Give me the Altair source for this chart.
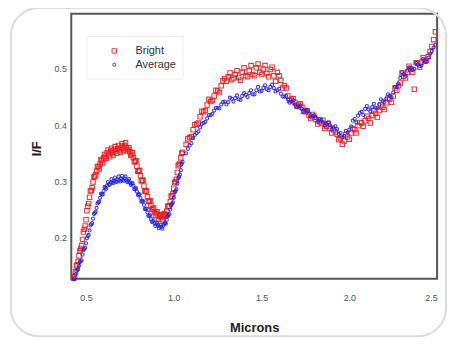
import altair as alt
import pandas as pd

# wavelength grids (microns)
x_a = [0.43, 0.44, 0.45, 0.46, 0.47, 0.48, 0.49, 0.50, 0.51, 0.52,
       0.53, 0.54, 0.55, 0.56, 0.57, 0.58, 0.59, 0.60, 0.61, 0.62,
       0.63, 0.64, 0.65, 0.66, 0.67, 0.68, 0.69, 0.70, 0.71, 0.72,
       0.73, 0.74, 0.75, 0.76, 0.77, 0.78, 0.79, 0.80, 0.81, 0.82,
       0.83, 0.84, 0.85, 0.86, 0.87, 0.88, 0.89, 0.90, 0.91, 0.92,
       0.93, 0.94, 0.95, 0.96, 0.97, 0.98, 0.99, 1.00, 1.01, 1.02,
       1.03, 1.04, 1.05]
x_c = [0.435, 0.445, 0.455, 0.465, 0.475, 0.485, 0.495, 0.505, 0.515, 0.525,
       0.535, 0.545, 0.555, 0.565, 0.575, 0.585, 0.595, 0.605, 0.615, 0.625,
       0.635, 0.645, 0.655, 0.665, 0.675, 0.685, 0.695, 0.705, 0.715, 0.725,
       0.735, 0.745, 0.755, 0.765, 0.775, 0.785, 0.795, 0.805, 0.815, 0.825,
       0.835, 0.845, 0.855, 0.865, 0.875, 0.885, 0.895, 0.905, 0.915, 0.925,
       0.935, 0.945, 0.955, 0.965, 0.975, 0.985, 0.995, 1.005, 1.015, 1.025,
       1.035, 1.045]
x_b = [1.07, 1.09, 1.11, 1.13, 1.15, 1.17, 1.19, 1.21, 1.23, 1.25,
       1.27, 1.29, 1.31, 1.33, 1.35, 1.37, 1.39, 1.41, 1.43, 1.45,
       1.47, 1.49, 1.51, 1.53, 1.55, 1.57, 1.59, 1.61, 1.63, 1.65,
       1.67, 1.69, 1.71, 1.73, 1.75, 1.77, 1.79, 1.81, 1.83, 1.85,
       1.87, 1.89, 1.91, 1.93, 1.95, 1.97, 1.99, 2.01, 2.03, 2.05,
       2.07, 2.09, 2.11, 2.13, 2.15, 2.17, 2.19, 2.21, 2.23, 2.25,
       2.27, 2.29, 2.31, 2.33, 2.35, 2.37, 2.39, 2.41, 2.43, 2.45,
       2.47, 2.49]
x_d = [1.08, 1.10, 1.12, 1.14, 1.16, 1.18, 1.20, 1.22, 1.24, 1.26,
       1.28, 1.30, 1.32, 1.34, 1.36, 1.38, 1.40, 1.42, 1.44, 1.46,
       1.48, 1.50, 1.52, 1.54, 1.56, 1.58, 1.60, 1.62, 1.64, 1.66,
       1.68, 1.70, 1.72, 1.74, 1.76, 1.78, 1.80, 1.82, 1.84, 1.86,
       1.88, 1.90, 1.92, 1.94, 1.96, 1.98, 2.00, 2.02, 2.04, 2.06,
       2.08, 2.10, 2.12, 2.14, 2.16, 2.18, 2.20, 2.22, 2.24, 2.26,
       2.28, 2.30, 2.32, 2.34, 2.36, 2.38, 2.40, 2.42, 2.44, 2.46,
       2.48]

bright_a = [0.128, 0.140, 0.152, 0.168, 0.181, 0.197, 0.215, 0.232, 0.256, 0.272,
            0.284, 0.299, 0.309, 0.318, 0.327, 0.331, 0.337, 0.342, 0.345, 0.351,
            0.349, 0.354, 0.352, 0.357, 0.354, 0.358, 0.356, 0.361, 0.359, 0.364,
            0.360, 0.357, 0.353, 0.348, 0.342, 0.336, 0.327, 0.319, 0.310, 0.302,
            0.292, 0.282, 0.273, 0.264, 0.257, 0.251, 0.246, 0.243, 0.240, 0.238,
            0.236, 0.238, 0.241, 0.247, 0.256, 0.264, 0.274, 0.288, 0.300, 0.316,
            0.330, 0.342, 0.352]
bright_c = [0.131, 0.150, 0.158, 0.177, 0.186, 0.210, 0.221, 0.248, 0.261, 0.283,
            0.289, 0.308, 0.312, 0.326, 0.322, 0.339, 0.333, 0.348, 0.341, 0.356,
            0.344, 0.359, 0.347, 0.362, 0.350, 0.364, 0.352, 0.367, 0.355, 0.369,
            0.354, 0.360, 0.346, 0.351, 0.335, 0.337, 0.318, 0.320, 0.301, 0.302,
            0.283, 0.283, 0.265, 0.266, 0.250, 0.253, 0.240, 0.246, 0.233, 0.241,
            0.232, 0.243, 0.240, 0.256, 0.256, 0.274, 0.278, 0.298, 0.304, 0.328,
            0.332, 0.350]
bright_b = [0.366, 0.378, 0.392, 0.402, 0.415, 0.424, 0.436, 0.442, 0.452, 0.461,
            0.470, 0.483, 0.486, 0.481, 0.490, 0.485, 0.494, 0.488, 0.497, 0.490,
            0.502, 0.494, 0.500, 0.492, 0.499, 0.488, 0.494, 0.480, 0.470, 0.452,
            0.446, 0.441, 0.436, 0.432, 0.424, 0.418, 0.419, 0.410, 0.406, 0.409,
            0.398, 0.394, 0.392, 0.384, 0.376, 0.372, 0.379, 0.386, 0.392, 0.399,
            0.404, 0.408, 0.412, 0.417, 0.421, 0.426, 0.432, 0.440, 0.446, 0.452,
            0.462, 0.475, 0.487, 0.494, 0.500, 0.464, 0.510, 0.512, 0.514, 0.522,
            0.540, 0.566]
bright_d = [0.376, 0.380, 0.401, 0.404, 0.425, 0.426, 0.446, 0.444, 0.462, 0.458,
            0.479, 0.478, 0.493, 0.484, 0.497, 0.480, 0.502, 0.486, 0.506, 0.488,
            0.509, 0.490, 0.506, 0.486, 0.503, 0.478, 0.488, 0.466, 0.466, 0.444,
            0.447, 0.434, 0.438, 0.425, 0.426, 0.412, 0.414, 0.402, 0.404, 0.394,
            0.403, 0.386, 0.388, 0.374, 0.366, 0.383, 0.375, 0.394, 0.386, 0.405,
            0.398, 0.416, 0.404, 0.426, 0.414, 0.436, 0.428, 0.448, 0.441, 0.466,
            0.470, 0.493, 0.484, 0.505, 0.494, 0.511, 0.503, 0.520, 0.515, 0.531,
            0.552]

average_a = [0.126, 0.135, 0.143, 0.150, 0.158, 0.170, 0.180, 0.190, 0.203, 0.213,
             0.224, 0.234, 0.244, 0.253, 0.263, 0.271, 0.277, 0.283, 0.289, 0.293,
             0.295, 0.298, 0.299, 0.301, 0.300, 0.303, 0.302, 0.305, 0.303, 0.305,
             0.302, 0.301, 0.298, 0.296, 0.292, 0.287, 0.282, 0.277, 0.271, 0.265,
             0.258, 0.251, 0.245, 0.239, 0.233, 0.229, 0.226, 0.224, 0.222, 0.220,
             0.219, 0.222, 0.226, 0.232, 0.240, 0.250, 0.260, 0.271, 0.283, 0.296,
             0.308, 0.320, 0.335]
average_c = [0.128, 0.141, 0.144, 0.157, 0.160, 0.178, 0.182, 0.199, 0.205, 0.222,
             0.226, 0.242, 0.246, 0.261, 0.264, 0.278, 0.277, 0.290, 0.287, 0.299,
             0.294, 0.304, 0.297, 0.307, 0.299, 0.309, 0.300, 0.310, 0.301, 0.309,
             0.299, 0.304, 0.294, 0.297, 0.286, 0.288, 0.276, 0.277, 0.264, 0.265,
             0.251, 0.252, 0.239, 0.240, 0.228, 0.231, 0.221, 0.227, 0.217, 0.223,
             0.216, 0.225, 0.225, 0.238, 0.242, 0.258, 0.263, 0.281, 0.286, 0.306,
             0.312, 0.331]
average_b = [0.350, 0.364, 0.377, 0.386, 0.396, 0.404, 0.412, 0.418, 0.426, 0.431,
             0.437, 0.442, 0.441, 0.447, 0.448, 0.446, 0.452, 0.454, 0.457, 0.455,
             0.462, 0.460, 0.466, 0.464, 0.468, 0.466, 0.462, 0.456, 0.451, 0.446,
             0.442, 0.437, 0.433, 0.429, 0.426, 0.421, 0.416, 0.413, 0.411, 0.405,
             0.403, 0.400, 0.396, 0.393, 0.386, 0.381, 0.387, 0.398, 0.411, 0.417,
             0.424, 0.429, 0.428, 0.432, 0.431, 0.437, 0.443, 0.447, 0.452, 0.458,
             0.468, 0.484, 0.491, 0.497, 0.502, 0.500, 0.508, 0.506, 0.513, 0.520,
             0.532, 0.543]
average_d = [0.358, 0.368, 0.383, 0.389, 0.402, 0.406, 0.418, 0.420, 0.431, 0.430,
             0.441, 0.437, 0.449, 0.442, 0.453, 0.445, 0.457, 0.450, 0.462, 0.455,
             0.468, 0.461, 0.471, 0.462, 0.472, 0.460, 0.465, 0.451, 0.452, 0.440,
             0.444, 0.432, 0.435, 0.424, 0.427, 0.415, 0.418, 0.406, 0.410, 0.399,
             0.405, 0.393, 0.398, 0.384, 0.379, 0.390, 0.392, 0.408, 0.405, 0.422,
             0.418, 0.434, 0.425, 0.438, 0.430, 0.446, 0.441, 0.455, 0.450, 0.468,
             0.474, 0.494, 0.488, 0.503, 0.498, 0.511, 0.505, 0.518, 0.513, 0.527,
             0.538]

series = ["Bright", "Average"]
colors = ["#f01818", "#2020f0"]
x_ticks = [0.5, 1.0, 1.5, 2.0, 2.5]
y_ticks = [0.2, 0.3, 0.4, 0.5]

xs = x_a + x_c + x_b + x_d
df = pd.concat([
    pd.DataFrame({"Microns": xs, "IF": bright_a + bright_c + bright_b + bright_d,
                  "Series": "Bright"}),
    pd.DataFrame({"Microns": xs, "IF": average_a + average_c + average_b + average_d,
                  "Series": "Average"}),
], ignore_index=True)

W, H = 370, 268
one = alt.Data(values=[{}])

frame = alt.Chart(one).mark_rect(
    cornerRadius=28, filled=False, stroke="#dddddd", strokeWidth=2
).encode(x=alt.value(-61), x2=alt.value(379), y=alt.value(-6), y2=alt.value(326))

legend_box = alt.Chart(one).mark_rect(
    fill="white", stroke="#eeeeee", strokeWidth=1
).encode(x=alt.value(16), x2=alt.value(113), y=alt.value(23), y2=alt.value(66))

points = alt.Chart(df).mark_point(filled=False, strokeWidth=1.1, opacity=0.85).encode(
    x=alt.X("Microns:Q",
            scale=alt.Scale(domain=[0.416, 2.5], nice=False, zero=False),
            axis=alt.Axis(title="Microns", values=x_ticks, format=".1f",
                          titleY=49, titleBaseline="middle")),
    y=alt.Y("IF:Q",
            scale=alt.Scale(domain=[0.127, 0.598], nice=False, zero=False),
            axis=alt.Axis(title="I/F", values=y_ticks, format=".1f",
                          titleX=-35, titleY=136, titleAngle=270,
                          titleAlign="center", titleBaseline="middle")),
    color=alt.Color("Series:N", scale=alt.Scale(domain=series, range=colors),
                    legend=alt.Legend(title=None, orient="none", legendX=38, legendY=32,
                                      labelOffset=16, rowPadding=2, padding=0,
                                      labelFontSize=11, labelColor="#333",
                                      labelFont="Liberation Sans", symbolSize=22,
                                      symbolStrokeWidth=1)),
    shape=alt.Shape("Series:N", scale=alt.Scale(domain=series, range=["square", "circle"])),
    size=alt.Size("Series:N", scale=alt.Scale(domain=series, range=[20, 10]), legend=None),
)

chart = alt.layer(frame, legend_box, points).properties(
    width=W, height=H,
    autosize=alt.AutoSizeParams(type="none"),
    padding={"left": 64, "top": 4, "right": 10, "bottom": 60},
).configure_view(stroke="#555555", strokeWidth=2).configure_axis(
    grid=False, domain=False, ticks=False,
    labelFont="Liberation Sans", labelFontSize=9, labelColor="#555",
    labelPadding=5, titleFont="Liberation Sans", titleFontSize=13,
    titleFontWeight="bold", titleColor="#222"
).configure_axisX(labelPadding=15)

chart.save("out.html", embed_options={"renderer": "svg", "actions": False})
